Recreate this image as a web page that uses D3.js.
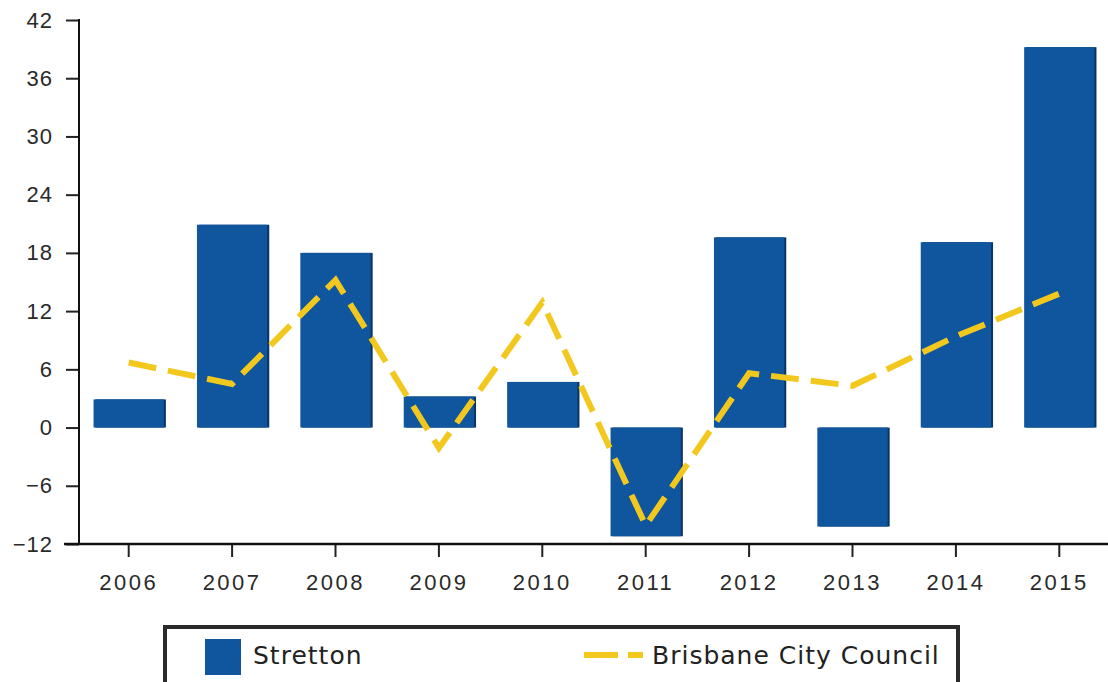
<!DOCTYPE html>
<html>
<head>
<meta charset="utf-8">
<script src="https://cdn.jsdelivr.net/npm/d3@7"></script>
<style>
  body { margin: 0; background: #fff; }
  svg { display: block; font-family: "DejaVu Sans", Verdana, sans-serif; }
</style>
</head>
<body>
<div id="chart"></div>
<script>
// values
var years = ["2006", "2007", "2008", "2009", "2010", "2011", "2012", "2013", "2014", "2015"];
var stretton = [2.9, 20.9, 18.0, 3.2, 4.7, -11.2, 19.6, -10.2, 19.1, 39.2];
var brisbane = [6.7, 4.5, 15.2, -2.1, 12.9, -10.1, 5.6, 4.3, 9.4, 13.8];
var yTicks = [-12, -6, 0, 6, 12, 18, 24, 30, 36, 42];
var seriesNames = ["Stretton", "Brisbane City Council"];

var width = 1108, height = 682;
var barColor = "#0f569e";
var lineColor = "#f3c81e";

var svg = d3.select("#chart").append("svg")
    .attr("width", width)
    .attr("height", height);

var x = d3.scaleBand()
    .domain(years)
    .range([77, 1111])
    .paddingInner(0.32)
    .paddingOuter(0.16);

var y = d3.scaleLinear()
    .domain([-12, 42])
    .range([544, 20]);

// bars (with a thin dark edge on the right, as in the print)
var bars = svg.append("g");
bars.selectAll("rect.shadow")
    .data(stretton)
    .enter()
    .append("rect")
    .attr("class", "shadow")
    .attr("x", function(d, i) { return x(years[i]) + 2; })
    .attr("y", function(d) { return y(Math.max(d, 0)); })
    .attr("width", x.bandwidth())
    .attr("height", function(d) { return Math.abs(y(d) - y(0)); })
    .attr("fill", "#0a3563");
bars.selectAll("rect.bar")
    .data(stretton)
    .enter()
    .append("rect")
    .attr("class", "bar")
    .attr("x", function(d, i) { return x(years[i]); })
    .attr("y", function(d) { return y(Math.max(d, 0)); })
    .attr("width", x.bandwidth())
    .attr("height", function(d) { return Math.abs(y(d) - y(0)); })
    .attr("fill", barColor);

// dashed line
var line = d3.line()
    .x(function(d, i) { return x(years[i]) + x.bandwidth() / 2; })
    .y(function(d) { return y(d); });

svg.append("path")
    .datum(brisbane)
    .attr("d", line)
    .attr("fill", "none")
    .attr("stroke", lineColor)
    .attr("stroke-width", 6)
    .attr("stroke-dasharray", "28,12");

// y axis
var yAxis = d3.axisLeft(y)
    .tickValues(yTicks)
    .tickSize(13)
    .tickPadding(13)
    .tickFormat(d3.format("d"));

var gy = svg.append("g")
    .attr("transform", "translate(79,0)")
    .call(yAxis);
gy.select(".domain").remove();
gy.append("line")
    .attr("x1", 0).attr("x2", 0)
    .attr("y1", y(42) - 1).attr("y2", y(-12))
    .attr("stroke", "#111").attr("stroke-width", 2);
gy.selectAll(".tick line").attr("stroke", "#222").attr("stroke-width", 2);
gy.selectAll(".tick text")
    .attr("fill", "#2a2a2a")
    .style("font-size", "22px")
    .style("letter-spacing", "1px");

// x axis
var xAxis = d3.axisBottom(x)
    .tickSize(13)
    .tickPadding(17);

var gx = svg.append("g")
    .attr("transform", "translate(0,544)")
    .call(xAxis);
gx.select(".domain").remove();
gx.append("line")
    .attr("x1", 64).attr("x2", width)
    .attr("y1", 0).attr("y2", 0)
    .attr("stroke", "#111").attr("stroke-width", 2.5);
gx.selectAll(".tick line").attr("stroke", "#222").attr("stroke-width", 2);
gx.selectAll(".tick text")
    .attr("fill", "#2a2a2a")
    .style("font-size", "22px")
    .style("letter-spacing", "2.5px");

// legend
var legend = svg.append("g");
legend.append("rect")
    .attr("x", 165).attr("y", 627)
    .attr("width", 793).attr("height", 70)
    .attr("fill", "#fff")
    .attr("stroke", "#2a2a2a")
    .attr("stroke-width", 4);
legend.append("rect")
    .attr("x", 205).attr("y", 639)
    .attr("width", 36).attr("height", 36)
    .attr("fill", barColor);
legend.append("text")
    .attr("x", 253).attr("y", 664)
    .attr("fill", "#222")
    .style("font-size", "25px")
    .style("letter-spacing", "1px")
    .text(seriesNames[0]);
legend.append("line")
    .attr("x1", 584).attr("x2", 643)
    .attr("y1", 655).attr("y2", 655)
    .attr("stroke", lineColor)
    .attr("stroke-width", 6)
    .attr("stroke-dasharray", "34,10");
legend.append("text")
    .attr("x", 652).attr("y", 664)
    .attr("fill", "#222")
    .style("font-size", "25px")
    .style("letter-spacing", "1px")
    .text(seriesNames[1]);
</script>
</body>
</html>
